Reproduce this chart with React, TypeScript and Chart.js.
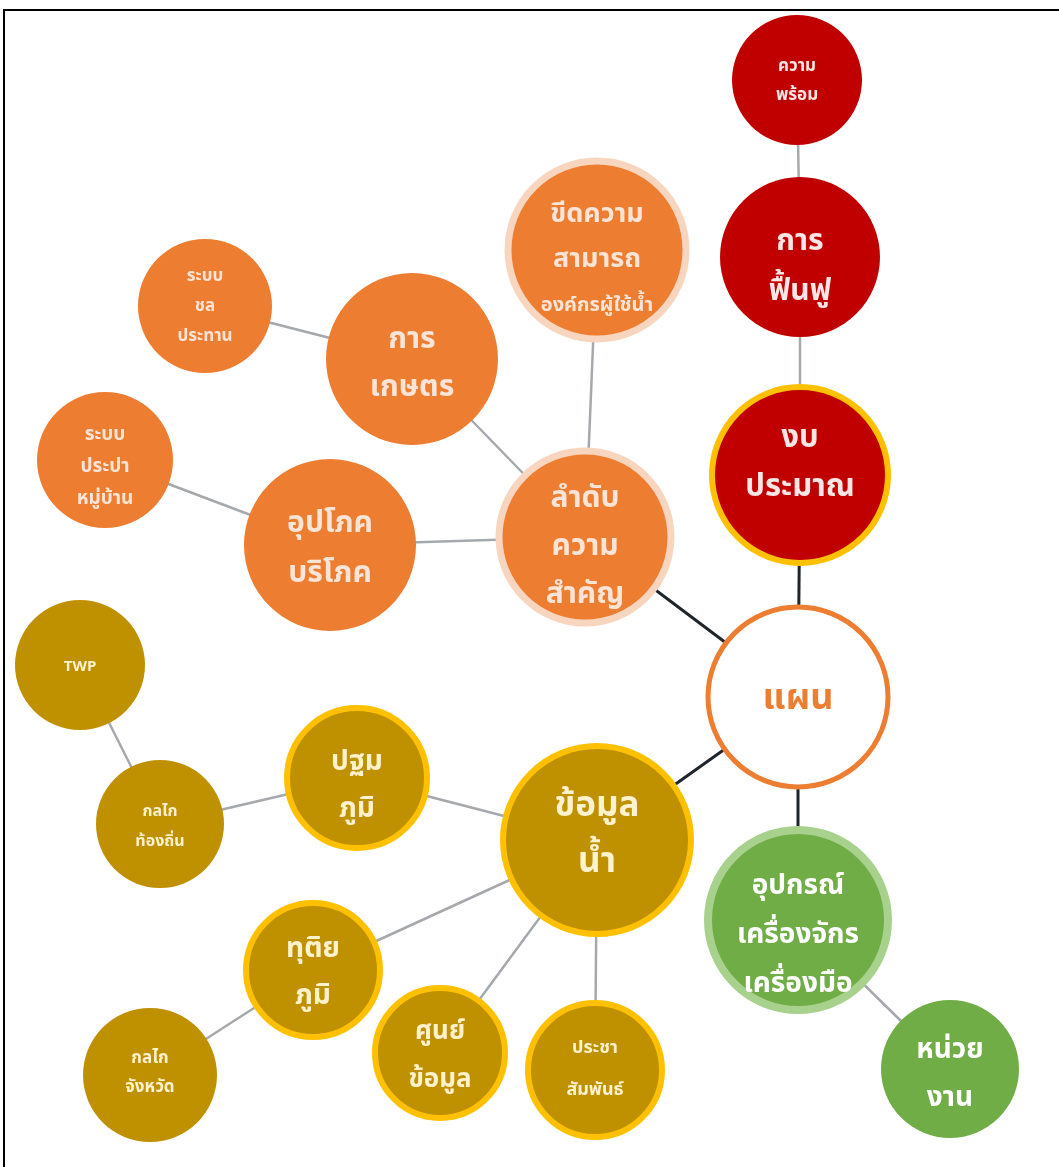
import React, { useEffect, useRef } from "react";
import { Chart, registerables } from "chart.js";

Chart.register(...registerables);

// Node data
const nodeLabels: string[][] = [
  ["ความ", "พร้อม"],
  ["การ", "ฟื้นฟู"],
  ["งบ", "ประมาณ"],
  ["แผน"],
  ["อุปกรณ์", "เครื่องจักร", "เครื่องมือ"],
  ["หน่วย", "งาน"],
  ["ลำดับ", "ความ", "สำคัญ"],
  ["ขีดความ", "สามารถ", "องค์กรผู้ใช้น้ำ"],
  ["การ", "เกษตร"],
  ["ระบบ", "ชล", "ประทาน"],
  ["ระบบ", "ประปา", "หมู่บ้าน"],
  ["อุปโภค", "บริโภค"],
  ["TWP"],
  ["กลไก", "ท้องถิ่น"],
  ["ปฐม", "ภูมิ"],
  ["ข้อมูล", "น้ำ"],
  ["ทุติย", "ภูมิ"],
  ["ศูนย์", "ข้อมูล"],
  ["ประชา", "สัมพันธ์"],
  ["กลไก", "จังหวัด"],
];
const nodeX: number[] = [797, 800, 800, 798, 798, 950, 585, 597, 412, 205, 105, 330, 80, 160, 357, 597, 313, 440, 595, 150];
const nodeY: number[] = [80, 257, 475, 697, 920, 1069, 537, 250, 359, 306, 460, 545, 665, 824, 778, 840, 970, 1053, 1070, 1075];
const nodeR: number[] = [65, 80, 88, 90, 90, 69, 86, 89, 86, 67, 68, 86, 65, 64, 70, 94, 67, 65, 67, 67];
// group: 0 red, 1 red+gold border, 2 plan, 3 green+light border, 4 green, 5 orange+peach border, 6 orange, 7 gold, 8 gold+yellow border
const nodeGroup: number[] = [0, 0, 1, 2, 3, 4, 5, 5, 6, 6, 6, 6, 7, 7, 8, 8, 8, 8, 8, 7];
const nodeFontSize: number[] = [17, 30, 31, 36, 28, 28, 30, 27, 30, 17, 19, 30, 15, 16, 28, 35, 28, 26, 18, 17];
const nodeLineGap: number[] = [29, 50, 49, 0, 49, 48, 48, 45, 48, 30, 32, 50, 0, 30, 47, 56, 47, 48, 42, 29];
const nodeTextDy: number[] = [2, 12, -10, 5, 17, 7, 12, 12, 7, 2, 8, 6, 3, 4, 10, -3, 5, 5, 0, -1];

// Edges (from, to, strong)
const edgeFrom: number[] = [0, 1, 2, 3, 3, 3, 4, 6, 6, 6, 8, 11, 15, 15, 15, 15, 14, 13, 16];
const edgeTo: number[] = [1, 2, 3, 6, 15, 4, 5, 7, 8, 11, 9, 10, 14, 16, 17, 18, 13, 12, 19];
const edgeStrong: boolean[] = [false, false, true, true, true, true, false, false, false, false, false, false, false, false, false, false, false, false, false];

const groupFill = ["#C00000", "#C00000", "#FFFFFF", "#70AD47", "#70AD47", "#ED7D31", "#ED7D31", "#BF9000", "#BF9000"];
const groupBorder = ["#C00000", "#FFC000", "#ED7D31", "#A9D18E", "#70AD47", "#F8D5BF", "#ED7D31", "#BF9000", "#FFC000"];
const groupBorderWidth = [0, 6, 5, 8, 0, 7, 0, 0, 6];
const groupText = ["#FBE5E5", "#FBE5E5", "#ED7D31", "#FFFFFF", "#FFFFFF", "#FCE4D6", "#FCE4D6", "#FFF2CC", "#FFF2CC"];

const FONT = '"Noto Sans Thai", "Leelawadee UI", Tahoma, "DejaVu Sans", "Noto Sans", sans-serif';

const labelPlugin = {
  id: "nodeLabels",
  afterDatasetsDraw(chart: any) {
    const idx = chart.data.datasets.findIndex((d: any) => d.type === "bubble");
    const meta = chart.getDatasetMeta(idx);
    const ctx = chart.ctx;
    ctx.save();
    ctx.textAlign = "center";
    ctx.textBaseline = "middle";
    meta.data.forEach((el: any, i: number) => {
      const lines = nodeLabels[i];
      const fs = nodeFontSize[i];
      const gap = nodeLineGap[i];
      ctx.fillStyle = groupText[nodeGroup[i]];
      const n = lines.length;
      lines.forEach((t, k) => {
        let size = fs;
        if (i === 7 && k === 2) size = 20;
        ctx.font = `bold ${size}px ${FONT}`;
        const y = el.y + nodeTextDy[i] + (k - (n - 1) / 2) * gap;
        ctx.fillText(t, el.x, y);
      });
    });
    ctx.restore();
  },
};

export default function App() {
  const ref = useRef<HTMLCanvasElement | null>(null);
  useEffect(() => {
    if (!ref.current) return;
    const edgeSets = edgeFrom.map((f, i) => ({
      type: "line" as const,
      data: [
        { x: nodeX[f], y: nodeY[f] },
        { x: nodeX[edgeTo[i]], y: nodeY[edgeTo[i]] },
      ],
      borderColor: edgeStrong[i] ? "#1E262C" : "#A5A8AD",
      borderWidth: edgeStrong[i] ? 3 : 2.5,
      pointRadius: 0,
      fill: false,
      clip: false,
      order: 2,
    }));
    const chart = new Chart(ref.current, {
      type: "bubble",
      data: {
        datasets: [
          ...edgeSets,
          {
            type: "bubble" as const,
            data: nodeX.map((x, i) => ({ x, y: nodeY[i], r: nodeR[i] })),
            backgroundColor: nodeGroup.map((g) => groupFill[g]),
            borderColor: nodeGroup.map((g) => groupBorder[g]),
            borderWidth: nodeGroup.map((g) => groupBorderWidth[g]),
            clip: false,
            order: 1,
          },
        ] as any,
      },
      options: {
        responsive: false,
        devicePixelRatio: 1,
        animation: false,
        events: [],
        layout: { padding: 0, autoPadding: false },
        plugins: { legend: { display: false }, tooltip: { enabled: false } },
        scales: {
          x: { type: "linear", min: 0, max: 1059, display: false },
          y: { type: "linear", min: 0, max: 1167, reverse: true, display: false },
        },
      },
      plugins: [labelPlugin],
    });
    return () => chart.destroy();
  }, []);
  return (
    <div style={{ position: "absolute", left: 0, top: 0, width: 1059, height: 1167, background: "#FFFFFF" }}>
      <canvas ref={ref} width={1059} height={1167} style={{ position: "absolute", left: 0, top: 0, width: 1059, height: 1167 }} />
      <div style={{ position: "absolute", left: 3, top: 9, width: 1056, height: 1158, borderLeft: "2px solid #000", borderTop: "2px solid #000", boxSizing: "border-box", pointerEvents: "none" }} />
    </div>
  );
}
